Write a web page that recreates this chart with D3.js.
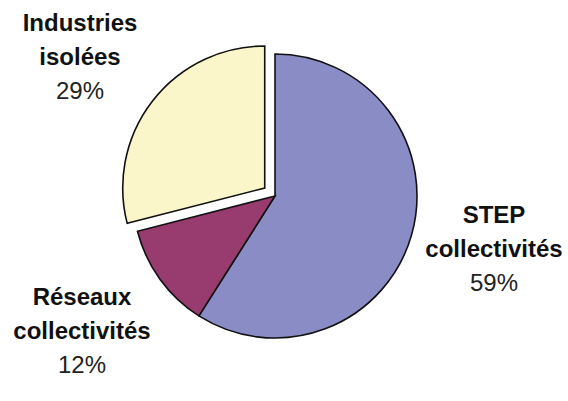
<!DOCTYPE html>
<html>
<head>
<meta charset="utf-8">
<script src="https://cdn.jsdelivr.net/npm/d3@7"></script>
<style>
  body { margin: 0; background: #fff; }
  svg { display: block; }
</style>
</head>
<body>
<svg id="chart" width="568" height="401"></svg>
<script>
// Slice data (in drawing order, clockwise from 12 o'clock)
const categories = ["STEP collectivités", "Réseaux collectivités", "Industries isolées"];
const values = [59, 12, 29];
const labelLines = [["STEP", "collectivités"], ["Réseaux", "collectivités"], ["Industries", "isolées"]];
const percentLabels = ["59%", "12%", "29%"];
const colors = ["#8a8cc6", "#983b6e", "#faf6ca"];
const exploded = [false, false, true];

const svg = d3.select("#chart");
const cx = 275, cy = 196, radius = 142, explodeBy = 13;

const pie = d3.pie().sort(null).value(d => d);
const arcs = pie(values);
const arc = d3.arc().innerRadius(0).outerRadius(radius);

const g = svg.append("g").attr("transform", `translate(${cx},${cy})`);

g.selectAll("path")
    .data(arcs)
    .enter().append("path")
    .attr("d", arc)
    .attr("fill", (d, i) => colors[i])
    .attr("stroke", "#111")
    .attr("stroke-width", 1.6)
    .attr("stroke-linejoin", "miter")
    .attr("transform", (d, i) => {
        if (!exploded[i]) return null;
        const mid = (d.startAngle + d.endAngle) / 2;
        return `translate(${Math.sin(mid) * explodeBy},${-Math.cos(mid) * explodeBy})`;
    });

// Label anchor positions (centre x, first baseline y)
const labelPos = [[494, 223], [82, 305], [80, 31]];
const lineGap = 34;

labelPos.forEach((p, i) => {
    const t = svg.append("text")
        .attr("text-anchor", "middle")
        .attr("font-family", "Liberation Sans, Arial, sans-serif")
        .attr("font-size", 24)
        .attr("fill", "#111");
    labelLines[i].forEach((line, j) => {
        t.append("tspan")
            .attr("x", p[0])
            .attr("y", p[1] + j * lineGap)
            .attr("font-weight", "bold")
            .text(line);
    });
    t.append("tspan")
        .attr("x", p[0])
        .attr("y", p[1] + labelLines[i].length * lineGap)
        .attr("fill", "#222")
        .text(percentLabels[i]);
});
</script>
</body>
</html>
